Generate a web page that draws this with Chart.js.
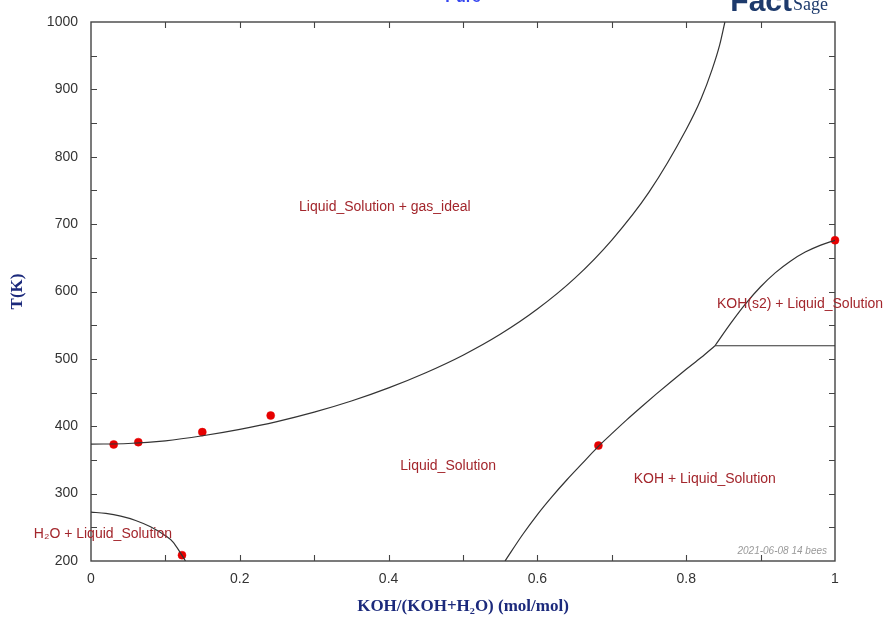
<!DOCTYPE html>
<html>
<head>
<meta charset="utf-8">
<title>KOH - H2O phase diagram</title>
<script src="https://cdn.jsdelivr.net/npm/chart.js@4/dist/chart.umd.min.js"></script>
<style>
  html, body { margin: 0; padding: 0; background: #ffffff; }
  #wrap { width: 896px; height: 627px; }
</style>
</head>
<body>
<div id="wrap"><canvas id="c" width="896" height="627"></canvas></div>
<script>
// Liquid_Solution / Liquid_Solution + gas_ideal boundary
const boilX = [0, 0.05, 0.10, 0.15, 0.20, 0.25, 0.30, 0.35, 0.40, 0.45, 0.50, 0.55, 0.60, 0.65, 0.70, 0.75, 0.80, 0.82, 0.835, 0.845, 0.852];
const boilT = [373.4, 374.4, 378.4, 385.9, 395.4, 406.9, 420.9, 437.4, 456.9, 479.4, 505.4, 536.4, 573.9, 619.4, 676.4, 747.4, 840.4, 886, 930, 966, 1000];

// H2O (ice) liquidus
const iceX = [0, 0.02, 0.04, 0.06, 0.08, 0.10, 0.11, 0.12, 0.127];
const iceT = [272.6, 270.6, 266.6, 260.2, 250.8, 237.5, 228.5, 212.5, 200];

// KOH liquidus
const kohX = [0.5565, 0.58, 0.60, 0.62, 0.64, 0.66, 0.68, 0.70, 0.72, 0.74, 0.76, 0.78, 0.80, 0.82, 0.8387];
const kohT = [200, 239, 269, 296, 321, 344.5, 368, 389, 409.5, 429, 448, 466.5, 484.5, 502, 519.5];

// KOH(s2) liquidus
const koh2X = [0.8387, 0.86, 0.88, 0.90, 0.92, 0.94, 0.96, 0.98, 1.0];
const koh2T = [519.5, 553, 582, 607, 628, 645, 658.5, 668.5, 676];

// KOH / KOH(s2) transition
const transX = [0.8387, 1.0];
const transT = [519.5, 519.5];

// Experimental points
const expX = [0.0305, 0.0636, 0.1496, 0.2415, 0.1223, 0.682, 1.0];
const expT = [373, 376.4, 391.3, 415.9, 208.7, 371.4, 676];

// Axis ticks
const xTicks = [0, 0.2, 0.4, 0.6, 0.8, 1];
const yTicks = [200, 300, 400, 500, 600, 700, 800, 900, 1000];

// Phase field names
const fieldNames = ['Liquid_Solution + gas_ideal', 'Liquid_Solution', 'KOH + Liquid_Solution', 'KOH(s2) + Liquid_Solution', 'H\u2082O + Liquid_Solution'];
const fieldX = [0.395, 0.48, 0.825, 0.953, 0.016];
const fieldT = [725, 341, 322, 581, 240];

const toPts = (xs, ys) => xs.map((x, i) => ({ x: x, y: ys[i] }));

const curveStyle = {
  showLine: true,
  borderColor: '#333333',
  borderWidth: 1.2,
  pointRadius: 0,
  pointHoverRadius: 0,
  cubicInterpolationMode: 'monotone',
  fill: false
};

// frame with inward ticks on all four sides, plus the text annotations
const frameTicks = {
  id: 'frameTicks',
  beforeDatasetsDraw(chart) {
    const { ctx, chartArea: a, scales } = chart;
    const xs = scales.x, ys = scales.y;
    const len = 6;
    ctx.save();
    ctx.strokeStyle = '#444444';
    ctx.lineWidth = 1.4;
    ctx.strokeRect(a.left, a.top, a.right - a.left, a.bottom - a.top);
    ctx.lineWidth = 1.1;
    ctx.beginPath();
    for (let v = 1; v < 10; v++) {
      const px = Math.round(xs.getPixelForValue(v / 10)) + 0.5;
      ctx.moveTo(px, a.bottom); ctx.lineTo(px, a.bottom - len);
      ctx.moveTo(px, a.top); ctx.lineTo(px, a.top + len);
    }
    for (let t = 250; t < 1000; t += 50) {
      const py = Math.round(ys.getPixelForValue(t)) + 0.5;
      ctx.moveTo(a.left, py); ctx.lineTo(a.left + len, py);
      ctx.moveTo(a.right, py); ctx.lineTo(a.right - len, py);
    }
    ctx.stroke();
    ctx.restore();
  },
  afterDatasetsDraw(chart) {
    const { ctx, chartArea: a, scales } = chart;
    ctx.save();
    // phase field names
    ctx.font = '14px "Liberation Sans", Arial, sans-serif';
    ctx.fillStyle = '#a3262c';
    ctx.textAlign = 'center';
    ctx.textBaseline = 'middle';
    fieldNames.forEach((name, i) => {
      ctx.fillText(name, scales.x.getPixelForValue(fieldX[i]), scales.y.getPixelForValue(fieldT[i]));
    });
    // date stamp
    ctx.font = 'italic 10px "Liberation Sans", Arial, sans-serif';
    ctx.fillStyle = '#9a9a9a';
    ctx.textAlign = 'right';
    ctx.textBaseline = 'middle';
    ctx.fillText('2021-06-08 14 bees', a.right - 8, a.bottom - 10);
    // heading and logo at the top edge
    ctx.textAlign = 'center';
    ctx.textBaseline = 'alphabetic';
    ctx.font = 'bold 16px "Liberation Sans", Arial, sans-serif';
    ctx.fillStyle = '#3546f0';
    ctx.fillText('Pure', 463, 2);
    ctx.textAlign = 'right';
    ctx.font = 'bold 30px "Liberation Sans", Arial, sans-serif';
    ctx.fillStyle = '#1d3a6c';
    ctx.fillText('Fact', 792, 11);
    ctx.textAlign = 'left';
    ctx.font = '18px "Liberation Serif", serif';
    ctx.fillText('Sage', 793, 10);
    ctx.restore();
  }
};

new Chart(document.getElementById('c'), {
  type: 'scatter',
  data: {
    datasets: [
      Object.assign({ label: 'boil', data: toPts(boilX, boilT) }, curveStyle),
      Object.assign({ label: 'ice', data: toPts(iceX, iceT) }, curveStyle),
      Object.assign({ label: 'koh', data: toPts(kohX, kohT) }, curveStyle),
      Object.assign({ label: 'koh2', data: toPts(koh2X, koh2T) }, curveStyle),
      Object.assign({ label: 'trans', data: toPts(transX, transT) }, curveStyle, { cubicInterpolationMode: 'default' }),
      {
        label: 'exp',
        data: toPts(expX, expT),
        showLine: false,
        pointRadius: 4,
        pointHoverRadius: 4,
        pointBackgroundColor: '#e60000',
        pointBorderColor: '#e60000',
        pointBorderWidth: 0.5,
        clip: false
      }
    ]
  },
  options: {
    responsive: false,
    animation: false,
    events: [],
    layout: { padding: { left: 0, top: 22, right: 61, bottom: 0 } },
    plugins: {
      legend: { display: false },
      tooltip: { enabled: false },
      title: { display: false }
    },
    scales: {
      x: {
        type: 'linear',
        min: 0, max: 1,
        afterFit(s) { s.height = 66; },
        afterBuildTicks(s) { s.ticks = xTicks.map(v => ({ value: v })); },
        grid: { display: false, drawTicks: false },
        border: { display: false },
        ticks: {
          padding: 10,
          color: '#333333',
          font: { family: '"Liberation Sans", Arial, sans-serif', size: 14 },
          callback: v => String(v)
        },
        title: {
          display: true,
          text: 'KOH/(KOH+H\u2082O) (mol/mol)',
          color: '#1c2a7c',
          font: { family: '"Liberation Serif", "Times New Roman", serif', size: 17, weight: 'bold' },
          padding: { top: 0, bottom: 10 }
        }
      },
      y: {
        type: 'linear',
        min: 200, max: 1000,
        afterFit(s) { s.width = 91; },
        afterBuildTicks(s) { s.ticks = yTicks.map(v => ({ value: v })); },
        grid: { display: false, drawTicks: false },
        border: { display: false },
        ticks: {
          padding: 13,
          color: '#333333',
          font: { family: '"Liberation Sans", Arial, sans-serif', size: 14 },
          callback: v => String(v)
        },
        title: {
          display: true,
          text: 'T(K)',
          color: '#1c2a7c',
          font: { family: '"Liberation Serif", "Times New Roman", serif', size: 17, weight: 'bold' },
          padding: { top: 7, bottom: 0 }
        }
      }
    }
  },
  plugins: [frameTicks]
});
</script>
</body>
</html>
